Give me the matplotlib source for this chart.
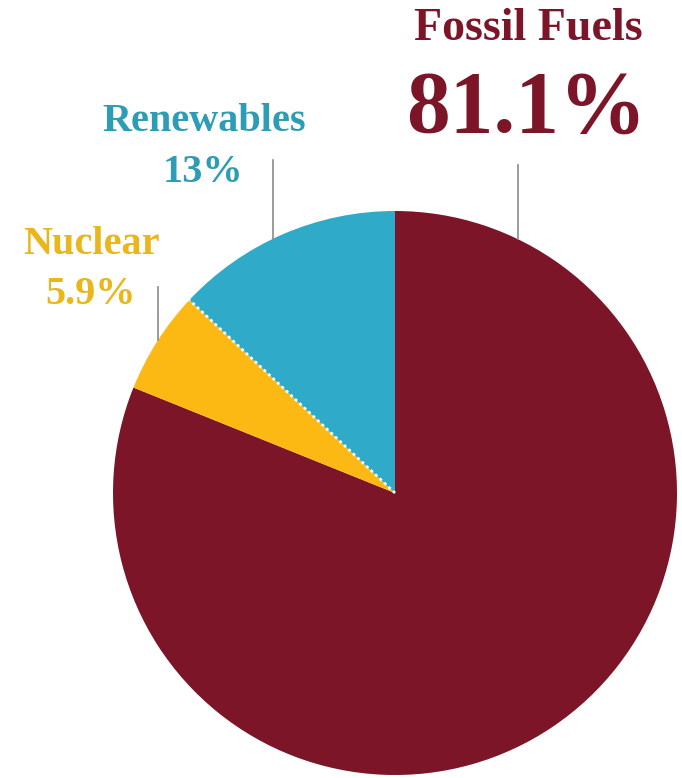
import numpy as np
import matplotlib
matplotlib.use("Agg")
import matplotlib.pyplot as plt

# energy mix, clockwise from 12 o'clock
labels = ["Fossil Fuels", "Nuclear", "Renewables"]
shares = [81.1, 5.9, 13.0]
share_text = ["81.1%", "5.9%", "13%"]
colors = ["#7b1527", "#fdb913", "#2fabc9"]
text_colors = ["#7b1527", "#e9b61c", "#2c9db5"]

W, H = 682, 778
cx, cy, R = 395, H - 493, 282

plt.rcParams["font.family"] = ["Liberation Serif", "DejaVu Serif"]

fig = plt.figure(figsize=(W / 100, H / 100), dpi=100)
ax = fig.add_axes([0, 0, 1, 1])

ax.pie(shares, colors=colors, startangle=90, counterclock=False,
       center=(cx, cy), radius=R, wedgeprops=dict(linewidth=0))

# pie() sets its own limits, so fix the pixel frame afterwards
ax.set_xlim(0, W)
ax.set_ylim(0, H)
ax.set_aspect("equal")
ax.axis("off")

# dotted white divider between nuclear and renewables
ang = np.deg2rad(90 - 360 * (shares[0] + shares[1]) / sum(shares))
ax.plot([cx, cx + R * np.cos(ang)], [cy, cy + R * np.sin(ang)],
        color="white", lw=2, ls=(0, (1, 1.2)))


def leader(x, ytop):
    yedge = cy + np.sqrt(R ** 2 - (x - cx) ** 2)
    ax.plot([x, x], [yedge, H - ytop], color="#8a8a8a", lw=1.2)


leader(518, 165)
leader(273, 160)
leader(158, 287)

# labels (pixel positions measured from top)
ax.text(528, H - 29, labels[0], color=text_colors[0], fontsize=33,
        fontweight="bold", ha="center", va="center")
ax.text(526, H - 110, share_text[0], color=text_colors[0], fontsize=63,
        fontweight="bold", ha="center", va="center")

ax.text(204, H - 121, labels[2], color=text_colors[2], fontsize=29,
        fontweight="bold", ha="center", va="center")
ax.text(203, H - 172, share_text[2], color=text_colors[2], fontsize=29,
        fontweight="bold", ha="center", va="center")

ax.text(92, H - 244, labels[1], color=text_colors[1], fontsize=29,
        fontweight="bold", ha="center", va="center")
ax.text(91, H - 294, share_text[1], color=text_colors[1], fontsize=29,
        fontweight="bold", ha="center", va="center")

fig.savefig("out.png", dpi=100, facecolor="white")
